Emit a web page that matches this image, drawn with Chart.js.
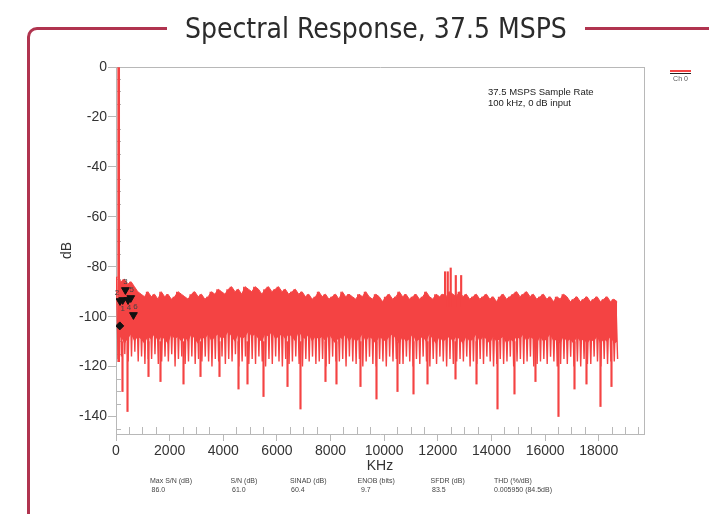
<!DOCTYPE html>
<html>
<head>
<meta charset="utf-8">
<script src="https://cdn.jsdelivr.net/npm/chart.js@4.4.0/dist/chart.umd.min.js"></script>
<style>
  html, body { margin: 0; padding: 0; background: #fff; }
  #wadah { position: relative; width: 709px; height: 514px; overflow: hidden; font-family: "Liberation Sans", Arial, sans-serif; }
  #grafik-spektrum { position: absolute; left: 0; top: 0; }
  .bingkai { position: absolute; left: 27px; top: 27px; width: 720px; height: 520px;
             border-left: 3px solid #b0344f; border-top: 3px solid #b0344f; border-top-left-radius: 10px; }
  .judul { position: absolute; left: 167px; top: 14px; padding: 0 18px; background: #fff; white-space: nowrap;
           font-family: "DejaVu Sans Condensed", "Liberation Sans Narrow", sans-serif; font-size: 28px; line-height: 30px; color: #2b2b2b; }
  .catatan { position: absolute; left: 488px; top: 87px; font-size: 9.5px; line-height: 10.5px; color: #222; }
  .legenda { position: absolute; left: 670px; top: 70px; width: 21px; }
  .legenda .garis-merah { height: 2px; background: #f44343; }
  .legenda .garis-hitam { height: 1.5px; background: #222; margin-top: 0.5px; }
  .legenda .teks { font-size: 7px; color: #555; text-align: center; margin-top: 1px; }
  .statistik { position: absolute; font-size: 7px; color: #444; white-space: nowrap; }
</style>
</head>
<body>
<div id="wadah">
  <canvas id="grafik-spektrum" width="709" height="514"></canvas>
  <div class="bingkai"></div>
  <div class="judul">Spectral Response, 37.5 MSPS</div>
  <div class="catatan">37.5 MSPS Sample Rate<br>100 kHz, 0 dB input</div>
  <div class="legenda"><div class="garis-merah"></div><div class="garis-hitam"></div><div class="teks">Ch 0</div></div>
</div>
<script>
// Lebar bin spektrum (kHz), 150 bin = 0 .. 18750 kHz
const lebarBin = 125;

// Puncak noise per bin (dB)
const puncakNoise = [
  -84, -86, -85, -87, -86, -88, -90, -91, -92, -90,
  -92, -91, -93, -90, -92, -91, -93, -92, -90, -91,
  -92, -93, -91, -90, -92, -91, -93, -92, -90, -91,
  -89, -90, -91, -89, -88, -90, -89, -91, -88, -89,
  -90, -88, -89, -91, -89, -88, -90, -89, -88, -90,
  -89, -91, -90, -89, -91, -90, -92, -91, -93, -92,
  -90, -92, -91, -93, -92, -91, -93, -90, -92, -91,
  -92, -93, -91, -92, -90, -92, -93, -91, -92, -94,
  -92, -91, -93, -92, -90, -92, -91, -93, -92, -91,
  -93, -92, -90, -92, -93, -91, -92, -91, -92, -90,
  -91, -92, -90, -92, -91, -93, -92, -91, -93, -92,
  -91, -93, -92, -94, -92, -91, -93, -92, -91, -90,
  -92, -91, -90, -92, -91, -93, -92, -91, -93, -92,
  -94, -92, -93, -91, -92, -94, -93, -92, -94, -93,
  -92, -94, -93, -92, -94, -93, -92, -94, -93, -94
];

// Batas bawah bagian pita yang padat (dB)
const tubuhNoise = [
  -110, -108, -111, -109, -107, -110, -108, -109, -111, -108,
  -109, -107, -110, -108, -109, -111, -107, -109, -108, -110,
  -108, -110, -107, -109, -111, -108, -109, -107, -110, -108,
  -107, -109, -108, -106, -108, -110, -107, -109, -108, -106,
  -108, -107, -109, -110, -107, -108, -106, -109, -108, -107,
  -109, -107, -108, -110, -106, -108, -109, -107, -110, -108,
  -109, -108, -110, -107, -109, -111, -108, -109, -107, -110,
  -108, -110, -109, -107, -110, -108, -109, -111, -108, -109,
  -110, -108, -107, -109, -111, -108, -110, -109, -107, -110,
  -109, -108, -110, -107, -109, -111, -108, -110, -109, -108,
  -110, -108, -109, -111, -108, -110, -109, -107, -110, -108,
  -109, -111, -108, -110, -109, -108, -111, -109, -110, -108,
  -109, -107, -110, -108, -109, -111, -108, -110, -109, -107,
  -110, -109, -111, -108, -110, -109, -111, -108, -110, -109,
  -111, -109, -110, -108, -111, -109, -110, -108, -111, -110
];

// Ujung bawah garis noise per bin (dB)
const dasarNoise = [
  -117, -116, -115, -118, -116, -114, -118, -116, -119, -117,
  -117, -115, -119, -118, -116, -118, -115, -120, -117, -116,
  -119, -118, -116, -119, -117, -118, -116, -118, -120, -117,
  -118, -116, -119, -117, -118, -115, -120, -118, -116, -119,
  -117, -119, -116, -118, -120, -117, -119, -116, -118, -120,
  -117, -119, -118, -116, -119, -120, -117, -118, -116, -119,
  -118, -117, -120, -119, -116, -118, -118, -117, -120, -116,
  -118, -119, -117, -120, -118, -116, -119, -120, -117, -118,
  -120, -116, -118, -117, -119, -119, -116, -118, -120, -117,
  -119, -116, -118, -120, -117, -119, -116, -118, -120, -117,
  -119, -118, -117, -118, -116, -120, -118, -119, -117, -119,
  -116, -118, -120, -119, -117, -119, -118, -116, -120, -118,
  -117, -119, -118, -116, -120, -119, -118, -117, -119, -116,
  -118, -120, -119, -117, -119, -116, -120, -118, -120, -117,
  -119, -119, -116, -118, -120, -117, -119, -118, -118, -117
];

// Lembah dalam (garis tipis ke bawah)
const frekLembah = [242, 429, 1212, 1659, 2517, 3151, 3859, 4568, 4903, 5500, 6395, 6879, 7811, 8221, 9116,
  9713, 10496, 11093, 11615, 12659, 13442, 14225, 14858, 15641, 16499, 17096, 17543, 18065, 18475];
const levelLembah = [-130, -138, -124, -126, -127, -124, -124, -129, -127, -132, -128, -137, -126, -127, -128,
  -133, -130, -131, -127, -125, -127, -137, -131, -126, -140, -129, -127, -136, -128];

// Sinyal input (fundamental)
const frekFundamental = [100];
const levelFundamental = [0];
const dasarFundamental = -118;

// Spur sekitar 12.5 MHz
const frekSpur = [12270, 12370, 12480, 12670, 12870];
const levelSpur = [-82, -82, -80.5, -83.5, -83.5];

// Marker harmonik
const frekHarmonik = [250, 150, 350, 450, 550, 650];
const levelHarmonik = [-93.3, -93.7, -89.3, -93.3, -92.5, -99.3];
const namaHarmonik = ['1', '2', '3', '4', '5', '6'];
const frekBerlian = [140];
const levelBerlian = [-103.7];

// Label sumbu
const tickX = [0, 2000, 4000, 6000, 8000, 10000, 12000, 14000, 16000, 18000];
const tickY = [-140, -120, -100, -80, -60, -40, -20, 0];

// Statistik di bawah grafik
const namaStatistik = ['Max S/N (dB)', 'S/N (dB)', 'SINAD (dB)', 'ENOB (bits)', 'SFDR (dB)', 'THD (%/dB)'];
const nilaiStatistik = ['86.0', '61.0', '60.4', '9.7', '83.5', '0.005950 (84.5dB)'];

const warnaMerah = '#f44343';
const warnaSumbu = '#b8b8b8';
const hurufSumbu = { family: '"Liberation Sans", Arial, sans-serif', size: 14 };
const xMaks = 19687.5;
const yMin = -147;

// Tick kecil (tiap 500 kHz dan tiap 5 dB), tanpa posisi tick besar
const tickXKecil = [];
for (let v = 500; v < xMaks; v += 500) { if (v % 2000 !== 0) tickXKecil.push(v); }
const tickYKecil = [];
for (let v = -145; v < 0; v += 5) { if (v % 20 !== 0) tickYKecil.push(v); }

function titikBin(nilai) {
  return nilai.map((v, i) => ({ x: i * lebarBin + lebarBin / 2, y: v }));
}

// Garis zig-zag puncak -> ujung bawah untuk tiap bin
function titikZigzag() {
  const titik = [];
  puncakNoise.forEach((atas, i) => {
    titik.push({ x: i * lebarBin + 15, y: atas });
    titik.push({ x: i * lebarBin + 78, y: dasarNoise[i] });
  });
  return titik;
}

function tampilkanStatistik() {
  const wadah = document.getElementById('wadah');
  const posisiNama = [150, 230.5, 290, 357.5, 430.5, 494];
  const posisiNilai = [151.5, 232, 291, 361, 432, 494];
  namaStatistik.forEach((nama, i) => {
    const el = document.createElement('div');
    el.className = 'statistik';
    el.style.left = posisiNama[i] + 'px';
    el.style.top = '477px';
    el.textContent = nama;
    wadah.appendChild(el);
    const elNilai = document.createElement('div');
    elNilai.className = 'statistik';
    elNilai.style.left = posisiNilai[i] + 'px';
    elNilai.style.top = '486px';
    elNilai.textContent = nilaiStatistik[i];
    wadah.appendChild(elNilai);
  });
}

// Label angka di dekat marker harmonik
const geserLabel = [[0, 9], [-3, -8], [0, -8], [1, 8], [1, -8], [2, -8]];
const pluginLabelMarker = {
  id: 'labelMarker',
  afterDatasetsDraw(chart) {
    const meta = chart.getDatasetMeta(1);
    const ctx = chart.ctx;
    ctx.save();
    ctx.font = '8px "Liberation Sans", Arial, sans-serif';
    ctx.fillStyle = '#444';
    ctx.textAlign = 'center';
    ctx.textBaseline = 'middle';
    meta.data.forEach((el, i) => {
      ctx.fillText(namaHarmonik[i], el.x + geserLabel[i][0], el.y + geserLabel[i][1]);
    });
    ctx.restore();
  }
};

function tampilkanGrafikSpektrum() {
  const canvas = document.getElementById('grafik-spektrum');
  if (!canvas) {
    console.error('Canvas grafik tidak ditemukan.');
    return;
  }
  const ctx = canvas.getContext('2d');
  new Chart(ctx, {
    type: 'line',
    data: {
      datasets: [
        {
          type: 'scatter', label: 'berlian', order: 0,
          data: frekBerlian.map((f, i) => ({ x: f, y: levelBerlian[i] })),
          pointStyle: 'rectRot', pointRadius: 4, backgroundColor: '#111', borderColor: '#111'
        },
        {
          type: 'scatter', label: 'harmonik', order: 0,
          data: frekHarmonik.map((f, i) => ({ x: f, y: levelHarmonik[i] })),
          pointStyle: 'triangle', pointRotation: 180, pointRadius: 4.5, backgroundColor: '#111', borderColor: '#111'
        },
        {
          type: 'bar', label: 'fundamental', order: 2, grouped: false, barThickness: 2,
          data: frekFundamental.map((f, i) => ({ x: f, y: [dasarFundamental, levelFundamental[i]] })),
          backgroundColor: warnaMerah
        },
        {
          type: 'bar', label: 'spur', order: 2, grouped: false, barThickness: 1.5,
          data: frekSpur.map((f, i) => ({ x: f, y: [-96, levelSpur[i]] })),
          backgroundColor: warnaMerah
        },
        {
          type: 'bar', label: 'lembah', order: 2, grouped: false, barThickness: 1.5,
          data: frekLembah.map((f, i) => ({ x: f, y: [levelLembah[i], -110] })),
          backgroundColor: warnaMerah
        },
        {
          type: 'line', label: 'Ch 0', order: 5,
          data: titikBin(puncakNoise),
          borderColor: warnaMerah, borderWidth: 1, pointRadius: 0, tension: 0,
          fill: '+1', backgroundColor: warnaMerah
        },
        {
          type: 'line', label: 'tubuh', order: 5,
          data: titikBin(tubuhNoise),
          borderWidth: 0, pointRadius: 0, tension: 0, fill: false
        },
        {
          type: 'line', label: 'zigzag', order: 6,
          data: titikZigzag(),
          borderColor: warnaMerah, borderWidth: 1.4, pointRadius: 0, tension: 0, fill: false
        }
      ]
    },
    options: {
      responsive: false,
      animation: false,
      devicePixelRatio: 1,
      layout: { padding: { left: 0, top: 67, right: 65, bottom: 39 } },
      plugins: { legend: { display: false }, tooltip: { enabled: false } },
      scales: {
        x: {
          type: 'linear', position: 'bottom', min: 0, max: xMaks, offset: false,
          grid: { offset: false, drawOnChartArea: false, tickLength: 7, color: warnaSumbu },
          border: { color: warnaSumbu },
          ticks: { color: '#333', font: hurufSumbu, padding: 2, maxRotation: 0, autoSkip: false, callback: v => String(v) },
          title: { display: true, text: 'KHz', color: '#333', font: hurufSumbu, padding: { top: 0, bottom: 0 } },
          afterBuildTicks: s => { s.ticks = tickX.map(v => ({ value: v })); },
          afterFit: s => { s.height = 41; }
        },
        y: {
          type: 'linear', position: 'left', min: yMin, max: 0,
          grid: { drawOnChartArea: false, tickLength: 8, color: warnaSumbu },
          border: { color: warnaSumbu },
          ticks: { color: '#333', font: hurufSumbu, padding: 1, callback: v => String(v) },
          title: { display: true, text: 'dB', color: '#333', font: hurufSumbu, padding: { top: 58.6, bottom: 0 } },
          afterBuildTicks: s => { s.ticks = tickY.map(v => ({ value: v })); },
          afterFit: s => { s.width = 116; }
        },
        xAtas: {
          type: 'linear', axis: 'x', position: 'top', min: 0, max: xMaks,
          grid: { display: false, drawTicks: false }, ticks: { display: false },
          border: { color: warnaSumbu },
          afterFit: s => { s.height = 0; }
        },
        yKanan: {
          type: 'linear', axis: 'y', position: 'right', min: yMin, max: 0,
          grid: { display: false, drawTicks: false }, ticks: { display: false },
          border: { color: warnaSumbu },
          afterFit: s => { s.width = 0; }
        },
        xKecil: {
          type: 'linear', axis: 'x', position: { y: -144.2 }, min: 0, max: xMaks,
          grid: { drawOnChartArea: false, tickLength: 7, color: warnaSumbu },
          border: { display: false }, ticks: { display: false },
          afterBuildTicks: s => { s.ticks = tickXKecil.map(v => ({ value: v })); }
        },
        yKecil: {
          type: 'linear', axis: 'y', position: { x: 190 }, min: yMin, max: 0,
          grid: { drawOnChartArea: false, tickLength: 5, color: warnaSumbu },
          border: { display: false }, ticks: { display: false },
          afterBuildTicks: s => { s.ticks = tickYKecil.map(v => ({ value: v })); }
        }
      }
    },
    plugins: [pluginLabelMarker]
  });
}

document.addEventListener('DOMContentLoaded', () => {
  try {
    tampilkanGrafikSpektrum();
    tampilkanStatistik();
  } catch (error) {
    console.error('Gagal memuat grafik:', error);
  }
});
</script>
</body>
</html>
